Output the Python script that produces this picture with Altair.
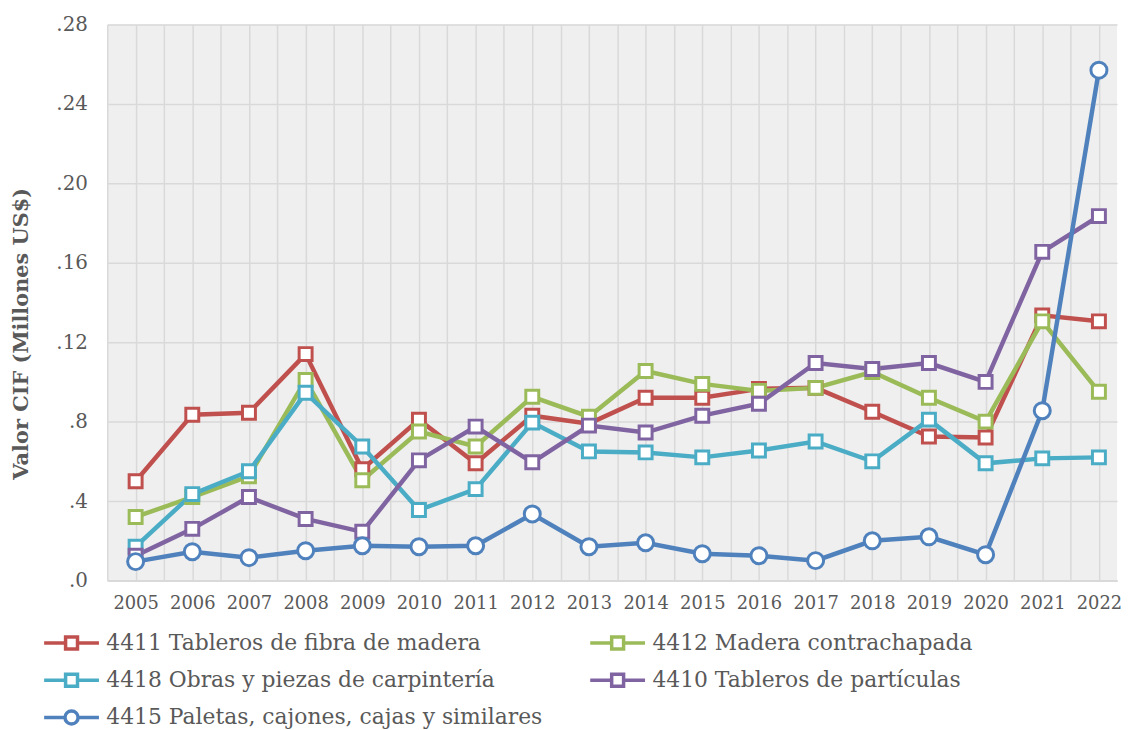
import altair as alt
import pandas as pd

years = list(range(2005, 2023))

series_names = [
    "4411 Tableros de fibra de madera",
    "4412 Madera contrachapada",
    "4418 Obras y piezas de carpintería",
    "4410 Tableros de partículas",
    "4415 Paletas, cajones, cajas y similares",
]
series_colors = ["#C0504D", "#9BBB59", "#4BACC6", "#8064A2", "#4F81BD"]

v4411 = [0.050, 0.0835, 0.0845, 0.114, 0.056, 0.081, 0.059, 0.083, 0.079, 0.092,
         0.092, 0.0965, 0.097, 0.085, 0.0725, 0.072, 0.1335, 0.1305]
v4412 = [0.032, 0.042, 0.0525, 0.101, 0.0505, 0.075, 0.0675, 0.0925, 0.0825, 0.1055,
         0.099, 0.0955, 0.097, 0.105, 0.092, 0.080, 0.1305, 0.095]
v4418 = [0.017, 0.0435, 0.055, 0.0945, 0.0675, 0.0355, 0.046, 0.0795, 0.065, 0.0645,
         0.062, 0.0655, 0.070, 0.060, 0.081, 0.059, 0.0615, 0.062]
v4410 = [0.0125, 0.026, 0.042, 0.031, 0.0245, 0.0605, 0.0775, 0.0595, 0.078, 0.0745,
         0.083, 0.089, 0.1095, 0.1065, 0.1095, 0.100, 0.1655, 0.1835]
v4415 = [0.0095, 0.0145, 0.0115, 0.015, 0.0175, 0.017, 0.0175, 0.0335, 0.017, 0.019,
         0.0135, 0.0125, 0.010, 0.020, 0.022, 0.013, 0.0855, 0.257]

y_ticks = [0.0, 0.04, 0.08, 0.12, 0.16, 0.20, 0.24, 0.28]
x_grid = [y + d for y in years for d in (-0.5, 0.0)]

all_values = [v4411, v4412, v4418, v4410, v4415]
rows = []
for name, vals in zip(series_names, all_values):
    for yr, v in zip(years, vals):
        rows.append({"Año": yr, "Serie": name, "Valor": v})
df = pd.DataFrame(rows)

FONT = "DejaVu Serif"
GRAY = "#595959"

# legend glyphs: a line with a marker in the middle (unit = 12 px)
sq_path = "M-2.3,0H-0.5M0.5,0H2.3M-0.5,-0.5H0.5V0.5H-0.5Z"
ci_path = "M-2.3,0H-0.55M0.55,0H2.3M-0.55,0A0.55,0.55 0 1,0 0.55,0A0.55,0.55 0 1,0 -0.55,0Z"

# legend is laid out column by column: this order gives the reference's rows
legend_order = [0, 2, 4, 1, 3]
legend_names = [series_names[i] for i in legend_order]
legend_colors = [series_colors[i] for i in legend_order]
legend_shapes = [ci_path if i == 4 else sq_path for i in legend_order]

x_enc = alt.X(
    "Año:Q",
    scale=alt.Scale(domain=[2004.5, 2022.32], nice=False, zero=False),
    axis=alt.Axis(
        values=x_grid,
        labelExpr="datum.value % 1 === 0 ? format(datum.value, 'd') : ''",
        labelOverlap=False,
        labelFlush=False,
        ticks=False,
        labelPadding=14,
        labelFont=FONT,
        labelFontSize=18,
        labelColor=GRAY,
        grid=True,
        gridColor="#d9d9d9",
        gridWidth=1.5,
        domainColor="#d9d9d9",
        domainWidth=2,
        title=None,
    ),
)
y_enc = alt.Y(
    "Valor:Q",
    scale=alt.Scale(domain=[0, 0.28], nice=False),
    axis=alt.Axis(
        values=y_ticks,
        labelExpr="'.' + round(datum.value * 100)",
        ticks=False,
        domain=False,
        labelPadding=20,
        labelFont=FONT,
        labelFontSize=20,
        labelColor=GRAY,
        grid=True,
        gridColor="#d9d9d9",
        gridWidth=1.5,
        title="Valor CIF (Millones US$)",
        titleFont=FONT,
        titleFontSize=21,
        titleFontWeight="bold",
        titleColor=GRAY,
        titleX=-86,
        titleY=311,
        titleBaseline="middle",
        titleAngle=270,
    ),
)

color_scale = alt.Scale(domain=series_names, range=series_colors)

lines = alt.Chart(df).mark_line(strokeWidth=4.5).encode(
    x=x_enc,
    y=y_enc,
    color=alt.Color("Serie:N", scale=color_scale, legend=None),
    order=alt.Order("Año:Q"),
)

squares = alt.Chart(df).transform_filter(
    alt.datum.Serie != series_names[4]
).mark_point(shape="square", size=170, filled=False, fill="white", fillOpacity=1,
             strokeWidth=3, opacity=1).encode(
    x=x_enc,
    y=y_enc,
    color=alt.Color("Serie:N", scale=color_scale, legend=None),
)

circles = alt.Chart(df).transform_filter(
    alt.datum.Serie == series_names[4]
).mark_point(shape="circle", size=260, filled=False, fill="white", fillOpacity=1,
             strokeWidth=3, opacity=1).encode(
    x=x_enc,
    y=y_enc,
    color=alt.Color("Serie:N", scale=color_scale, legend=None),
)

legend_cfg = alt.Legend(
    title=None,
    orient="none",
    legendX=-66,
    legendY=609,
    columns=2,
    columnPadding=40,
    rowPadding=10.5,
    labelFont=FONT,
    labelFontSize=22,
    labelColor=GRAY,
    labelLimit=600,
    labelOffset=21,
    symbolOffset=16,
    symbolSize=576,
    symbolStrokeWidth=3.5,
    symbolFillColor="white",
    symbolOpacity=1,
)

legend_layer = alt.Chart(df).mark_point(
    filled=False, fill="white", strokeWidth=3.5, opacity=0
).encode(
    x=x_enc,
    y=y_enc,
    stroke=alt.Stroke("Serie:N", scale=alt.Scale(domain=legend_names, range=legend_colors),
                      legend=legend_cfg),
    shape=alt.Shape("Serie:N", scale=alt.Scale(domain=legend_names, range=legend_shapes),
                    legend=legend_cfg),
)

chart = alt.layer(legend_layer, lines, squares, circles).properties(
    width=1017,
    height=560,
    autosize=alt.AutoSizeParams(type="none"),
    padding={"left": 100, "top": 14, "right": 8, "bottom": 148},
).configure_view(
    fill="#efefef",
    stroke=None,
)

chart.save("out.html", embed_options={"renderer": "svg", "actions": False})
